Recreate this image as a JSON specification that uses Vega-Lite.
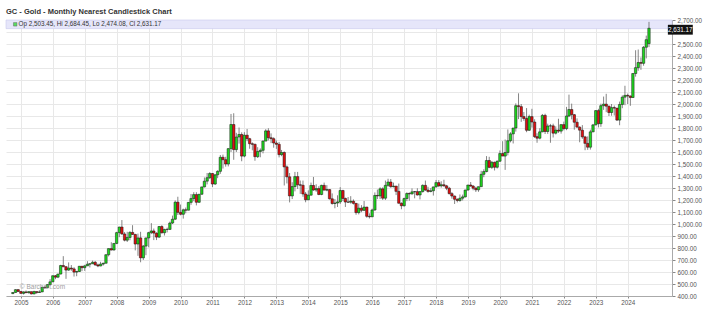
{
  "$schema": "https://vega.github.io/schema/vega-lite/v6.json",
  "width": 666,
  "height": 276,
  "autosize": {"type": "none"},
  "padding": {"left": 6, "top": 20, "right": 32, "bottom": 16},
  "background": "white",
  "config": {
    "font": "Liberation Sans",
    "view": {"stroke": null},
    "axis": {"labelFont": "Liberation Sans", "labelFontSize": 6.3, "labelColor": "#555", "tickColor": "#888", "domainColor": "#aaa", "gridColor": "#e8e8e8", "gridWidth": 1, "title": null, "labelOverlap": false, "labelBound": false, "labelFlush": false}
  },
  "title": {"text": "GC - Gold - Monthly Nearest Candlestick Chart", "anchor": "start", "frame": "group", "fontSize": 7.5, "fontWeight": "bold", "color": "#333", "offset": 2, "font": "Liberation Sans"},
  "data": {"values": [
    {"d":"2004-10-01","o":420,"h":432,"l":416,"c":429},
    {"d":"2004-11-01","o":429,"h":456,"l":427,"c":453},
    {"d":"2004-12-01","o":453,"h":457,"l":434,"c":438},
    {"d":"2005-01-01","o":438,"h":440,"l":418,"c":422},
    {"d":"2005-02-01","o":422,"h":439,"l":412,"c":434},
    {"d":"2005-03-01","o":434,"h":446,"l":424,"c":428},
    {"d":"2005-04-01","o":428,"h":440,"l":420,"c":436},
    {"d":"2005-05-01","o":436,"h":437,"l":414,"c":417},
    {"d":"2005-06-01","o":417,"h":444,"l":415,"c":437},
    {"d":"2005-07-01","o":437,"h":438,"l":418,"c":429},
    {"d":"2005-08-01","o":429,"h":448,"l":427,"c":434},
    {"d":"2005-09-01","o":434,"h":476,"l":433,"c":473},
    {"d":"2005-10-01","o":473,"h":480,"l":462,"c":470},
    {"d":"2005-11-01","o":470,"h":498,"l":468,"c":495},
    {"d":"2005-12-01","o":495,"h":541,"l":490,"c":518},
    {"d":"2006-01-01","o":518,"h":571,"l":516,"c":569},
    {"d":"2006-02-01","o":569,"h":575,"l":540,"c":557},
    {"d":"2006-03-01","o":557,"h":585,"l":549,"c":583},
    {"d":"2006-04-01","o":583,"h":660,"l":580,"c":654},
    {"d":"2006-05-01","o":654,"h":732,"l":640,"c":644},
    {"d":"2006-06-01","o":644,"h":650,"l":543,"c":616},
    {"d":"2006-07-01","o":616,"h":680,"l":610,"c":633},
    {"d":"2006-08-01","o":633,"h":658,"l":610,"c":626},
    {"d":"2006-09-01","o":626,"h":640,"l":562,"c":599},
    {"d":"2006-10-01","o":599,"h":610,"l":565,"c":604},
    {"d":"2006-11-01","o":604,"h":650,"l":600,"c":648},
    {"d":"2006-12-01","o":648,"h":650,"l":607,"c":636},
    {"d":"2007-01-01","o":636,"h":660,"l":609,"c":651},
    {"d":"2007-02-01","o":651,"h":690,"l":650,"c":665},
    {"d":"2007-03-01","o":665,"h":673,"l":638,"c":669},
    {"d":"2007-04-01","o":669,"h":695,"l":666,"c":681},
    {"d":"2007-05-01","o":681,"h":692,"l":652,"c":659},
    {"d":"2007-06-01","o":659,"h":670,"l":640,"c":650},
    {"d":"2007-07-01","o":650,"h":685,"l":648,"c":666},
    {"d":"2007-08-01","o":666,"h":677,"l":654,"c":673},
    {"d":"2007-09-01","o":673,"h":747,"l":671,"c":744},
    {"d":"2007-10-01","o":744,"h":797,"l":730,"c":795},
    {"d":"2007-11-01","o":795,"h":848,"l":780,"c":783},
    {"d":"2007-12-01","o":783,"h":840,"l":780,"c":838},
    {"d":"2008-01-01","o":838,"h":935,"l":832,"c":928},
    {"d":"2008-02-01","o":928,"h":977,"l":890,"c":975},
    {"d":"2008-03-01","o":975,"h":1033,"l":910,"c":917},
    {"d":"2008-04-01","o":917,"h":933,"l":855,"c":865},
    {"d":"2008-05-01","o":865,"h":935,"l":850,"c":888},
    {"d":"2008-06-01","o":888,"h":940,"l":865,"c":930},
    {"d":"2008-07-01","o":930,"h":990,"l":910,"c":913},
    {"d":"2008-08-01","o":913,"h":918,"l":780,"c":833},
    {"d":"2008-09-01","o":833,"h":920,"l":735,"c":884},
    {"d":"2008-10-01","o":884,"h":935,"l":681,"c":718},
    {"d":"2008-11-01","o":718,"h":825,"l":700,"c":816},
    {"d":"2008-12-01","o":816,"h":885,"l":740,"c":884},
    {"d":"2009-01-01","o":884,"h":935,"l":806,"c":928},
    {"d":"2009-02-01","o":928,"h":1007,"l":916,"c":942},
    {"d":"2009-03-01","o":942,"h":962,"l":866,"c":924},
    {"d":"2009-04-01","o":924,"h":930,"l":866,"c":891},
    {"d":"2009-05-01","o":891,"h":983,"l":883,"c":979},
    {"d":"2009-06-01","o":979,"h":990,"l":920,"c":927},
    {"d":"2009-07-01","o":927,"h":960,"l":904,"c":955},
    {"d":"2009-08-01","o":955,"h":970,"l":930,"c":955},
    {"d":"2009-09-01","o":955,"h":1020,"l":950,"c":1008},
    {"d":"2009-10-01","o":1008,"h":1070,"l":1000,"c":1040},
    {"d":"2009-11-01","o":1040,"h":1196,"l":1033,"c":1182},
    {"d":"2009-12-01","o":1182,"h":1227,"l":1075,"c":1097},
    {"d":"2010-01-01","o":1097,"h":1162,"l":1072,"c":1081},
    {"d":"2010-02-01","o":1081,"h":1128,"l":1045,"c":1118},
    {"d":"2010-03-01","o":1118,"h":1137,"l":1089,"c":1115},
    {"d":"2010-04-01","o":1115,"h":1183,"l":1114,"c":1180},
    {"d":"2010-05-01","o":1180,"h":1250,"l":1160,"c":1212},
    {"d":"2010-06-01","o":1212,"h":1265,"l":1190,"c":1245},
    {"d":"2010-07-01","o":1245,"h":1265,"l":1155,"c":1181},
    {"d":"2010-08-01","o":1181,"h":1250,"l":1175,"c":1248},
    {"d":"2010-09-01","o":1248,"h":1310,"l":1243,"c":1309},
    {"d":"2010-10-01","o":1309,"h":1388,"l":1305,"c":1357},
    {"d":"2010-11-01","o":1357,"h":1425,"l":1330,"c":1386},
    {"d":"2010-12-01","o":1386,"h":1432,"l":1375,"c":1421},
    {"d":"2011-01-01","o":1421,"h":1425,"l":1308,"c":1333},
    {"d":"2011-02-01","o":1333,"h":1415,"l":1326,"c":1410},
    {"d":"2011-03-01","o":1410,"h":1448,"l":1382,"c":1439},
    {"d":"2011-04-01","o":1439,"h":1575,"l":1418,"c":1556},
    {"d":"2011-05-01","o":1556,"h":1578,"l":1462,"c":1536},
    {"d":"2011-06-01","o":1536,"h":1560,"l":1478,"c":1500},
    {"d":"2011-07-01","o":1500,"h":1632,"l":1480,"c":1628},
    {"d":"2011-08-01","o":1628,"h":1917,"l":1600,"c":1829},
    {"d":"2011-09-01","o":1829,"h":1923,"l":1535,"c":1620},
    {"d":"2011-10-01","o":1620,"h":1760,"l":1600,"c":1725},
    {"d":"2011-11-01","o":1725,"h":1804,"l":1670,"c":1746},
    {"d":"2011-12-01","o":1746,"h":1764,"l":1523,"c":1566},
    {"d":"2012-01-01","o":1566,"h":1765,"l":1556,"c":1740},
    {"d":"2012-02-01","o":1740,"h":1792,"l":1690,"c":1711},
    {"d":"2012-03-01","o":1711,"h":1718,"l":1627,"c":1669},
    {"d":"2012-04-01","o":1669,"h":1680,"l":1614,"c":1664},
    {"d":"2012-05-01","o":1664,"h":1670,"l":1527,"c":1561},
    {"d":"2012-06-01","o":1561,"h":1640,"l":1550,"c":1604},
    {"d":"2012-07-01","o":1604,"h":1630,"l":1556,"c":1614},
    {"d":"2012-08-01","o":1614,"h":1697,"l":1589,"c":1691},
    {"d":"2012-09-01","o":1691,"h":1790,"l":1690,"c":1776},
    {"d":"2012-10-01","o":1776,"h":1798,"l":1696,"c":1719},
    {"d":"2012-11-01","o":1719,"h":1755,"l":1674,"c":1711},
    {"d":"2012-12-01","o":1711,"h":1723,"l":1636,"c":1675},
    {"d":"2013-01-01","o":1675,"h":1696,"l":1626,"c":1664},
    {"d":"2013-02-01","o":1664,"h":1684,"l":1555,"c":1578},
    {"d":"2013-03-01","o":1578,"h":1617,"l":1565,"c":1596},
    {"d":"2013-04-01","o":1596,"h":1605,"l":1321,"c":1476},
    {"d":"2013-05-01","o":1476,"h":1488,"l":1338,"c":1393},
    {"d":"2013-06-01","o":1393,"h":1425,"l":1180,"c":1234},
    {"d":"2013-07-01","o":1234,"h":1348,"l":1208,"c":1312},
    {"d":"2013-08-01","o":1312,"h":1434,"l":1272,"c":1395},
    {"d":"2013-09-01","o":1395,"h":1434,"l":1292,"c":1327},
    {"d":"2013-10-01","o":1327,"h":1362,"l":1251,"c":1323},
    {"d":"2013-11-01","o":1323,"h":1362,"l":1227,"c":1250},
    {"d":"2013-12-01","o":1250,"h":1267,"l":1181,"c":1202},
    {"d":"2014-01-01","o":1202,"h":1280,"l":1198,"c":1240},
    {"d":"2014-02-01","o":1240,"h":1345,"l":1238,"c":1321},
    {"d":"2014-03-01","o":1321,"h":1392,"l":1277,"c":1283},
    {"d":"2014-04-01","o":1283,"h":1331,"l":1268,"c":1295},
    {"d":"2014-05-01","o":1295,"h":1315,"l":1240,"c":1246},
    {"d":"2014-06-01","o":1246,"h":1327,"l":1240,"c":1322},
    {"d":"2014-07-01","o":1322,"h":1345,"l":1282,"c":1282},
    {"d":"2014-08-01","o":1282,"h":1324,"l":1273,"c":1287},
    {"d":"2014-09-01","o":1287,"h":1290,"l":1204,"c":1210},
    {"d":"2014-10-01","o":1210,"h":1255,"l":1161,"c":1171},
    {"d":"2014-11-01","o":1171,"h":1208,"l":1131,"c":1175},
    {"d":"2014-12-01","o":1175,"h":1239,"l":1142,"c":1184},
    {"d":"2015-01-01","o":1184,"h":1307,"l":1167,"c":1279},
    {"d":"2015-02-01","o":1279,"h":1285,"l":1191,"c":1213},
    {"d":"2015-03-01","o":1213,"h":1220,"l":1142,"c":1183},
    {"d":"2015-04-01","o":1183,"h":1225,"l":1175,"c":1182},
    {"d":"2015-05-01","o":1182,"h":1232,"l":1170,"c":1190},
    {"d":"2015-06-01","o":1190,"h":1205,"l":1162,"c":1172},
    {"d":"2015-07-01","o":1172,"h":1175,"l":1077,"c":1095},
    {"d":"2015-08-01","o":1095,"h":1170,"l":1080,"c":1132},
    {"d":"2015-09-01","o":1132,"h":1157,"l":1098,"c":1114},
    {"d":"2015-10-01","o":1114,"h":1192,"l":1108,"c":1141},
    {"d":"2015-11-01","o":1141,"h":1143,"l":1052,"c":1064},
    {"d":"2015-12-01","o":1064,"h":1089,"l":1046,"c":1060},
    {"d":"2016-01-01","o":1060,"h":1128,"l":1058,"c":1117},
    {"d":"2016-02-01","o":1117,"h":1263,"l":1110,"c":1238},
    {"d":"2016-03-01","o":1238,"h":1287,"l":1208,"c":1234},
    {"d":"2016-04-01","o":1234,"h":1306,"l":1208,"c":1293},
    {"d":"2016-05-01","o":1293,"h":1306,"l":1200,"c":1215},
    {"d":"2016-06-01","o":1215,"h":1362,"l":1200,"c":1322},
    {"d":"2016-07-01","o":1322,"h":1377,"l":1310,"c":1350},
    {"d":"2016-08-01","o":1350,"h":1375,"l":1302,"c":1311},
    {"d":"2016-09-01","o":1311,"h":1345,"l":1305,"c":1316},
    {"d":"2016-10-01","o":1316,"h":1317,"l":1241,"c":1272},
    {"d":"2016-11-01","o":1272,"h":1337,"l":1171,"c":1173},
    {"d":"2016-12-01","o":1173,"h":1180,"l":1123,"c":1152},
    {"d":"2017-01-01","o":1152,"h":1220,"l":1145,"c":1212},
    {"d":"2017-02-01","o":1212,"h":1264,"l":1190,"c":1254},
    {"d":"2017-03-01","o":1254,"h":1264,"l":1194,"c":1251},
    {"d":"2017-04-01","o":1251,"h":1297,"l":1245,"c":1268},
    {"d":"2017-05-01","o":1268,"h":1275,"l":1214,"c":1270},
    {"d":"2017-06-01","o":1270,"h":1298,"l":1237,"c":1242},
    {"d":"2017-07-01","o":1242,"h":1275,"l":1205,"c":1270},
    {"d":"2017-08-01","o":1270,"h":1330,"l":1262,"c":1322},
    {"d":"2017-09-01","o":1322,"h":1362,"l":1276,"c":1283},
    {"d":"2017-10-01","o":1283,"h":1310,"l":1260,"c":1271},
    {"d":"2017-11-01","o":1271,"h":1299,"l":1264,"c":1277},
    {"d":"2017-12-01","o":1277,"h":1311,"l":1237,"c":1309},
    {"d":"2018-01-01","o":1309,"h":1367,"l":1304,"c":1345},
    {"d":"2018-02-01","o":1345,"h":1366,"l":1307,"c":1318},
    {"d":"2018-03-01","o":1318,"h":1356,"l":1303,"c":1327},
    {"d":"2018-04-01","o":1327,"h":1369,"l":1310,"c":1318},
    {"d":"2018-05-01","o":1318,"h":1326,"l":1282,"c":1298},
    {"d":"2018-06-01","o":1298,"h":1309,"l":1246,"c":1253},
    {"d":"2018-07-01","o":1253,"h":1266,"l":1211,"c":1233},
    {"d":"2018-08-01","o":1233,"h":1237,"l":1167,"c":1206},
    {"d":"2018-09-01","o":1206,"h":1214,"l":1180,"c":1196},
    {"d":"2018-10-01","o":1196,"h":1246,"l":1185,"c":1215},
    {"d":"2018-11-01","o":1215,"h":1245,"l":1196,"c":1226},
    {"d":"2018-12-01","o":1226,"h":1286,"l":1221,"c":1283},
    {"d":"2019-01-01","o":1283,"h":1326,"l":1278,"c":1325},
    {"d":"2019-02-01","o":1325,"h":1350,"l":1311,"c":1316},
    {"d":"2019-03-01","o":1316,"h":1325,"l":1281,"c":1298},
    {"d":"2019-04-01","o":1298,"h":1310,"l":1267,"c":1285},
    {"d":"2019-05-01","o":1285,"h":1311,"l":1268,"c":1311},
    {"d":"2019-06-01","o":1311,"h":1443,"l":1310,"c":1414},
    {"d":"2019-07-01","o":1414,"h":1456,"l":1390,"c":1437},
    {"d":"2019-08-01","o":1437,"h":1566,"l":1431,"c":1529},
    {"d":"2019-09-01","o":1529,"h":1560,"l":1465,"c":1472},
    {"d":"2019-10-01","o":1472,"h":1525,"l":1459,"c":1514},
    {"d":"2019-11-01","o":1514,"h":1520,"l":1446,"c":1473},
    {"d":"2019-12-01","o":1473,"h":1530,"l":1462,"c":1523},
    {"d":"2020-01-01","o":1523,"h":1613,"l":1518,"c":1587},
    {"d":"2020-02-01","o":1587,"h":1690,"l":1570,"c":1566},
    {"d":"2020-03-01","o":1566,"h":1704,"l":1451,"c":1596},
    {"d":"2020-04-01","o":1596,"h":1788,"l":1572,"c":1694},
    {"d":"2020-05-01","o":1694,"h":1765,"l":1680,"c":1751},
    {"d":"2020-06-01","o":1751,"h":1795,"l":1671,"c":1800},
    {"d":"2020-07-01","o":1800,"h":2005,"l":1770,"c":1986},
    {"d":"2020-08-01","o":1986,"h":2089,"l":1874,"c":1978},
    {"d":"2020-09-01","o":1978,"h":2000,"l":1851,"c":1895},
    {"d":"2020-10-01","o":1895,"h":1933,"l":1860,"c":1879},
    {"d":"2020-11-01","o":1879,"h":1966,"l":1765,"c":1781},
    {"d":"2020-12-01","o":1781,"h":1911,"l":1775,"c":1895},
    {"d":"2021-01-01","o":1895,"h":1960,"l":1803,"c":1850},
    {"d":"2021-02-01","o":1850,"h":1873,"l":1717,"c":1728},
    {"d":"2021-03-01","o":1728,"h":1756,"l":1677,"c":1715},
    {"d":"2021-04-01","o":1715,"h":1798,"l":1705,"c":1768},
    {"d":"2021-05-01","o":1768,"h":1917,"l":1765,"c":1905},
    {"d":"2021-06-01","o":1905,"h":1919,"l":1750,"c":1771},
    {"d":"2021-07-01","o":1771,"h":1836,"l":1751,"c":1817},
    {"d":"2021-08-01","o":1817,"h":1834,"l":1677,"c":1818},
    {"d":"2021-09-01","o":1818,"h":1836,"l":1721,"c":1757},
    {"d":"2021-10-01","o":1757,"h":1814,"l":1746,"c":1783},
    {"d":"2021-11-01","o":1783,"h":1877,"l":1759,"c":1774},
    {"d":"2021-12-01","o":1774,"h":1831,"l":1753,"c":1828},
    {"d":"2022-01-01","o":1828,"h":1853,"l":1780,"c":1795},
    {"d":"2022-02-01","o":1795,"h":1976,"l":1782,"c":1900},
    {"d":"2022-03-01","o":1900,"h":2078,"l":1891,"c":1954},
    {"d":"2022-04-01","o":1954,"h":2003,"l":1872,"c":1911},
    {"d":"2022-05-01","o":1911,"h":1917,"l":1786,"c":1848},
    {"d":"2022-06-01","o":1848,"h":1880,"l":1805,"c":1807},
    {"d":"2022-07-01","o":1807,"h":1814,"l":1681,"c":1782},
    {"d":"2022-08-01","o":1782,"h":1824,"l":1710,"c":1726},
    {"d":"2022-09-01","o":1726,"h":1735,"l":1615,"c":1672},
    {"d":"2022-10-01","o":1672,"h":1730,"l":1618,"c":1640},
    {"d":"2022-11-01","o":1640,"h":1786,"l":1620,"c":1768},
    {"d":"2022-12-01","o":1768,"h":1834,"l":1765,"c":1826},
    {"d":"2023-01-01","o":1826,"h":1949,"l":1822,"c":1945},
    {"d":"2023-02-01","o":1945,"h":1960,"l":1805,"c":1836},
    {"d":"2023-03-01","o":1836,"h":2003,"l":1810,"c":1986},
    {"d":"2023-04-01","o":1986,"h":2062,"l":1951,"c":1999},
    {"d":"2023-05-01","o":1999,"h":2085,"l":1932,"c":1982},
    {"d":"2023-06-01","o":1982,"h":1986,"l":1900,"c":1929},
    {"d":"2023-07-01","o":1929,"h":2000,"l":1902,"c":1970},
    {"d":"2023-08-01","o":1970,"h":1987,"l":1904,"c":1966},
    {"d":"2023-09-01","o":1966,"h":1966,"l":1859,"c":1866},
    {"d":"2023-10-01","o":1866,"h":2020,"l":1823,"c":1996},
    {"d":"2023-11-01","o":1996,"h":2072,"l":1965,"c":2057},
    {"d":"2023-12-01","o":2057,"h":2152,"l":1990,"c":2072},
    {"d":"2024-01-01","o":2072,"h":2087,"l":2000,"c":2067},
    {"d":"2024-02-01","o":2067,"h":2070,"l":1985,"c":2054},
    {"d":"2024-03-01","o":2054,"h":2256,"l":2051,"c":2254},
    {"d":"2024-04-01","o":2254,"h":2448,"l":2228,"c":2303},
    {"d":"2024-05-01","o":2303,"h":2454,"l":2277,"c":2346},
    {"d":"2024-06-01","o":2346,"h":2388,"l":2285,"c":2339},
    {"d":"2024-07-01","o":2339,"h":2483,"l":2319,"c":2473},
    {"d":"2024-08-01","o":2473,"h":2570,"l":2380,"c":2536},
    {"d":"2024-09-01","o":2503.45,"h":2684.45,"l":2474.08,"c":2631.17}
  ]},
  "encoding": {
    "x": {"type": "temporal",
      "scale": {"domain": [{"year": 2004, "month": 9, "date": 10}, {"year": 2025, "month": 3, "date": 26}]},
      "axis": {"orient": "bottom", "format": "%Y", "tickSize": 2, "labelPadding": 1, "grid": true, "domain": true, "labelOverlap": false,
        "values": [{"year":2005,"month":1,"date":1},{"year":2006,"month":1,"date":1},{"year":2007,"month":1,"date":1},{"year":2008,"month":1,"date":1},{"year":2009,"month":1,"date":1},{"year":2010,"month":1,"date":1},{"year":2011,"month":1,"date":1},{"year":2012,"month":1,"date":1},{"year":2013,"month":1,"date":1},{"year":2014,"month":1,"date":1},{"year":2015,"month":1,"date":1},{"year":2016,"month":1,"date":1},{"year":2017,"month":1,"date":1},{"year":2018,"month":1,"date":1},{"year":2019,"month":1,"date":1},{"year":2020,"month":1,"date":1},{"year":2021,"month":1,"date":1},{"year":2022,"month":1,"date":1},{"year":2023,"month":1,"date":1},{"year":2024,"month":1,"date":1}]}},
    "y": {"type": "quantitative",
      "scale": {"domain": [400, 2700], "nice": false, "zero": false},
      "axis": {"orient": "right", "values": [400,500,600,700,800,900,1000,1100,1200,1300,1400,1500,1600,1700,1800,1900,2000,2100,2200,2300,2400,2500,2600,2700], "format": ",.2f", "labelExpr": "datum.value == 2600 ? '' : datum.label", "tickSize": 3, "labelPadding": 2, "grid": true, "domain": true, "labelOverlap": false}}
  },
  "layer": [
    {
      "data": {"values": [{"lo": 2628, "hi": 2700}]},
      "mark": {"type": "rect", "fill": "#e6e6fa", "stroke": "#c9c9ee", "strokeWidth": 0.6},
      "encoding": {
        "y": {"field": "lo"},
        "y2": {"field": "hi"}
      }
    },
    {
      "mark": {"type": "rule", "color": "#666", "strokeWidth": 0.8},
      "encoding": {
        "x": {"field": "d"},
        "y": {"field": "l"},
        "y2": {"field": "h"}
      }
    },
    {
      "mark": {"type": "bar", "size": 2.4, "stroke": "#111", "strokeWidth": 0.5},
      "encoding": {
        "x": {"field": "d"},
        "y": {"field": "o"},
        "y2": {"field": "c"},
        "fill": {"condition": {"test": "datum.c >= datum.o", "value": "#1fd81f"}, "value": "#e01010"}
      }
    },
    {
      "data": {"values": [{"d": "2004-10-28", "v": 2664}]},
      "mark": {"type": "point", "shape": "square", "size": 12, "filled": true, "fill": "#1fd81f", "stroke": "#333", "strokeWidth": 0.5},
      "encoding": {
        "x": {"field": "d"},
        "y": {"field": "v"}
      }
    },
    {
      "data": {"values": [{"d": "2004-12-05", "v": 2664, "t": "Op 2,503.45, Hi 2,684.45, Lo 2,474.08, Cl 2,631.17"}]},
      "mark": {"type": "text", "align": "left", "baseline": "middle", "fontSize": 6.3, "color": "#333", "font": "Liberation Sans"},
      "encoding": {
        "x": {"field": "d"},
        "y": {"field": "v"},
        "text": {"field": "t"}
      }
    },
    {
      "data": {"values": [{"d": "2004-12-20", "v": 472, "t": "© Barchart.com"}]},
      "mark": {"type": "text", "align": "left", "baseline": "middle", "fontSize": 6.5, "color": "#888", "opacity": 0.8, "font": "Liberation Sans"},
      "encoding": {
        "x": {"field": "d"},
        "y": {"field": "v"},
        "text": {"field": "t"}
      }
    },
    {
      "data": {"values": [{"a": "2025-04-05", "b": "2026-01-15", "lo": 2578, "hi": 2660}]},
      "mark": {"type": "rect", "fill": "#111", "clip": false},
      "encoding": {
        "x": {"field": "a"},
        "x2": {"field": "b"},
        "y": {"field": "lo"},
        "y2": {"field": "hi"}
      }
    },
    {
      "data": {"values": [{"d": "2025-08-25", "v": 2619, "t": "2,631.17"}]},
      "mark": {"type": "text", "align": "center", "baseline": "middle", "fontSize": 6.3, "color": "white", "font": "Liberation Sans", "clip": false},
      "encoding": {
        "x": {"field": "d"},
        "y": {"field": "v"},
        "text": {"field": "t"}
      }
    }
  ]
}
